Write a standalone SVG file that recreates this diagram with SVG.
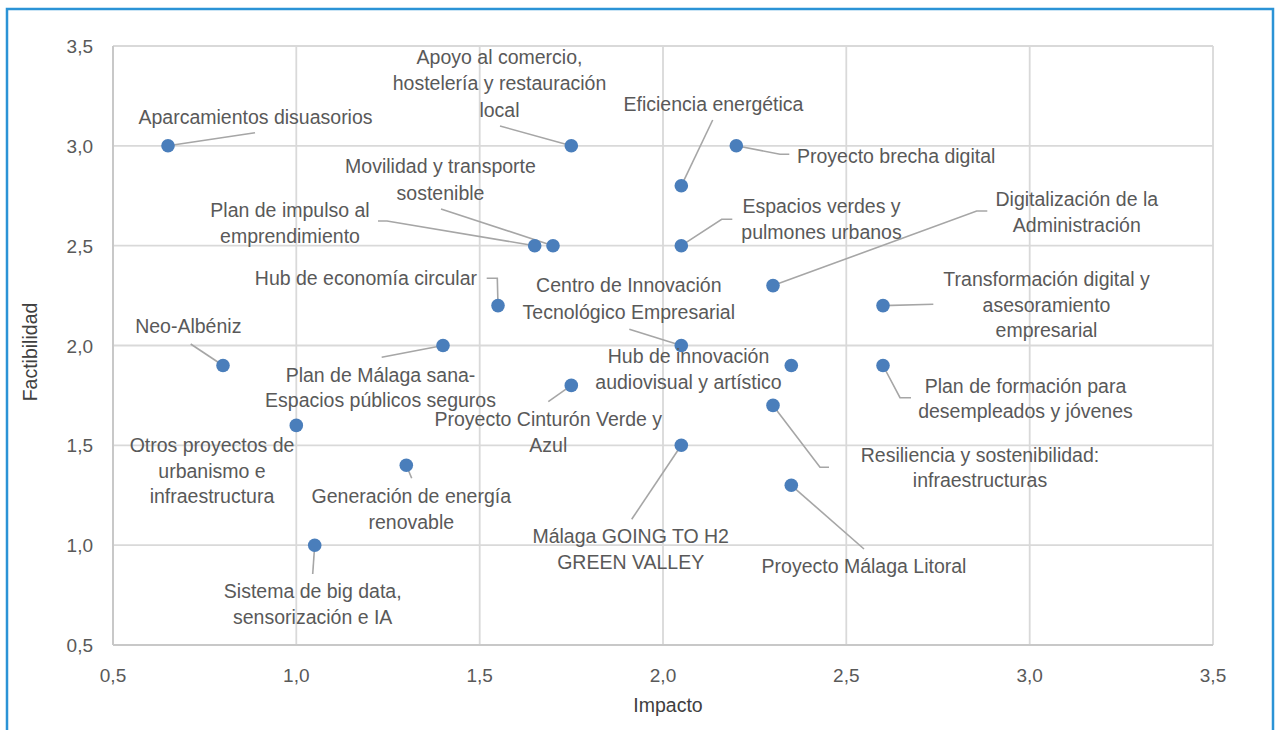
<svg xmlns="http://www.w3.org/2000/svg" width="1281" height="730" viewBox="0 0 1281 730">
<style>
.grid{stroke:#D9D9D9;stroke-width:1.8;fill:none}
.axis{stroke:#C8C8C8;stroke-width:2;fill:none}
.lead{stroke:#A6A6A6;stroke-width:1.6;fill:none}
.dot{fill:#4A7EBB}
.lbl{font-family:"Liberation Sans",Arial,sans-serif;font-size:19.5px;fill:#595959;text-anchor:middle}
.tick{font-family:"Liberation Sans",Arial,sans-serif;font-size:19px;fill:#595959}
.ttl{font-family:"Liberation Sans",Arial,sans-serif;font-size:19.5px;fill:#404040;text-anchor:middle}
</style>
<rect x="0" y="0" width="1281" height="730" fill="#FFFFFF"/>
<rect x="7" y="9" width="1266" height="730" fill="none" stroke="#2B93D6" stroke-width="2.5"/>
<g id="gridlines">
<line class="grid" x1="113" y1="46" x2="1213" y2="46"/>
<line class="grid" x1="113" y1="145.8" x2="1213" y2="145.8"/>
<line class="grid" x1="113" y1="245.7" x2="1213" y2="245.7"/>
<line class="grid" x1="113" y1="345.5" x2="1213" y2="345.5"/>
<line class="grid" x1="113" y1="445.3" x2="1213" y2="445.3"/>
<line class="grid" x1="113" y1="545.2" x2="1213" y2="545.2"/>
<line class="grid" x1="296.3" y1="46" x2="296.3" y2="645"/>
<line class="grid" x1="479.7" y1="46" x2="479.7" y2="645"/>
<line class="grid" x1="663" y1="46" x2="663" y2="645"/>
<line class="grid" x1="846.3" y1="46" x2="846.3" y2="645"/>
<line class="grid" x1="1029.7" y1="46" x2="1029.7" y2="645"/>
<line class="grid" x1="1213" y1="46" x2="1213" y2="645"/>
<line class="axis" x1="113" y1="46" x2="113" y2="645"/>
<line class="axis" x1="113" y1="645" x2="1213" y2="645"/>
</g>
<g id="y-ticks" class="tick" text-anchor="end">
<text x="93" y="53">3,5</text>
<text x="93" y="152.8">3,0</text>
<text x="93" y="252.7">2,5</text>
<text x="93" y="352.5">2,0</text>
<text x="93" y="452.3">1,5</text>
<text x="93" y="552.2">1,0</text>
<text x="93" y="652">0,5</text>
</g>
<g id="x-ticks" class="tick" text-anchor="middle">
<text x="113" y="681.5">0,5</text>
<text x="296.3" y="681.5">1,0</text>
<text x="479.7" y="681.5">1,5</text>
<text x="663" y="681.5">2,0</text>
<text x="846.3" y="681.5">2,5</text>
<text x="1029.7" y="681.5">3,0</text>
<text x="1213" y="681.5">3,5</text>
</g>
<text id="x-title" class="ttl" x="668" y="711.5">Impacto</text>
<text id="y-title" class="ttl" transform="translate(37,352) rotate(-90)">Factibilidad</text>
<g id="connectors">
<polyline class="lead" points="168,145.8 255,132.7"/>
<polyline class="lead" points="500,126 571.3,145.8"/>
<polyline class="lead" points="712.7,120 681.3,185.8"/>
<polyline class="lead" points="736.3,145.8 780,154.3 789.3,154.3"/>
<polyline class="lead" points="441,209 553,245.7"/>
<polyline class="lead" points="378,221 387,221 534.7,245.7"/>
<polyline class="lead" points="681.3,245.7 721.7,219.3 732.3,219.3"/>
<polyline class="lead" points="773,285.6 976.7,211 987.3,211"/>
<polyline class="lead" points="883,305.6 933.3,304.3"/>
<polyline class="lead" points="486.7,278.3 497.3,278.3 498,305.6"/>
<polyline class="lead" points="629.3,329.3 681.3,345.5"/>
<polyline class="lead" points="190.7,344 223,365.5"/>
<polyline class="lead" points="381.7,357.3 443,345.5"/>
<polyline class="lead" points="548.3,401.7 571.3,385.4"/>
<polyline class="lead" points="883,365.5 900,397.7 911,397.7"/>
<polyline class="lead" points="773,405.4 820,467.3 829,467.3"/>
<polyline class="lead" points="791.3,485.3 864,549"/>
<polyline class="lead" points="406.3,465.3 411.7,478.3"/>
<polyline class="lead" points="314.7,545.2 312.7,574"/>
<polyline class="lead" points="681.3,445.3 631.7,519.3"/>
</g>
<g id="p-aparcamientos"><circle class="dot" cx="168" cy="145.8" r="6.8"/><text class="lbl" x="255.5" y="124">Aparcamientos disuasorios</text></g>
<g id="p-apoyo"><circle class="dot" cx="571.3" cy="145.8" r="6.8"/><text class="lbl" x="499.5" y="63.5">Apoyo al comercio,</text><text class="lbl" x="499.5" y="90">hostelería y restauración</text><text class="lbl" x="499.5" y="116.5">local</text></g>
<g id="p-brecha"><circle class="dot" cx="736.3" cy="145.8" r="6.8"/><text class="lbl" x="797" y="163.3" style="text-anchor:start">Proyecto brecha digital</text></g>
<g id="p-eficiencia"><circle class="dot" cx="681.3" cy="185.8" r="6.8"/><text class="lbl" x="713.5" y="111">Eficiencia energética</text></g>
<g id="p-movilidad"><circle class="dot" cx="553" cy="245.7" r="6.8"/><text class="lbl" x="440.5" y="173">Movilidad y transporte</text><text class="lbl" x="440.5" y="200">sostenible</text></g>
<g id="p-impulso"><circle class="dot" cx="534.7" cy="245.7" r="6.8"/><text class="lbl" x="290" y="216.7">Plan de impulso al</text><text class="lbl" x="290" y="243">emprendimiento</text></g>
<g id="p-espacios-verdes"><circle class="dot" cx="681.3" cy="245.7" r="6.8"/><text class="lbl" x="821.5" y="213.3">Espacios verdes y</text><text class="lbl" x="821.5" y="239.3">pulmones urbanos</text></g>
<g id="p-digitalizacion"><circle class="dot" cx="773" cy="285.6" r="6.8"/><text class="lbl" x="1076.8" y="206">Digitalización de la</text><text class="lbl" x="1076.8" y="231.7">Administración</text></g>
<g id="p-transformacion"><circle class="dot" cx="883" cy="305.6" r="6.8"/><text class="lbl" x="1046.5" y="286">Transformación digital y</text><text class="lbl" x="1046.5" y="311.7">asesoramiento</text><text class="lbl" x="1046.5" y="336.5">empresarial</text></g>
<g id="p-economia-circular"><circle class="dot" cx="498" cy="305.6" r="6.8"/><text class="lbl" x="477" y="285" style="text-anchor:end">Hub de economía circular</text></g>
<g id="p-centro-innovacion"><circle class="dot" cx="681.3" cy="345.5" r="6.8"/><text class="lbl" x="628.8" y="292.3">Centro de Innovación</text><text class="lbl" x="628.8" y="319">Tecnológico Empresarial</text></g>
<g id="p-neo-albeniz"><circle class="dot" cx="223" cy="365.5" r="6.8"/><text class="lbl" x="188.3" y="333.3">Neo-Albéniz</text></g>
<g id="p-malaga-sana"><circle class="dot" cx="443" cy="345.5" r="6.8"/><text class="lbl" x="380.5" y="381.7">Plan de Málaga sana-</text><text class="lbl" x="380.5" y="406.7">Espacios públicos seguros</text></g>
<g id="p-hub-audiovisual"><circle class="dot" cx="791.3" cy="365.5" r="6.8"/><text class="lbl" x="688.5" y="362.7">Hub de innovación</text><text class="lbl" x="688.5" y="389.3">audiovisual y artístico</text></g>
<g id="p-cinturon"><circle class="dot" cx="571.3" cy="385.4" r="6.8"/><text class="lbl" x="548.3" y="426">Proyecto Cinturón Verde y</text><text class="lbl" x="548.3" y="451.7">Azul</text></g>
<g id="p-formacion"><circle class="dot" cx="883" cy="365.5" r="6.8"/><text class="lbl" x="1025.5" y="392.7">Plan de formación para</text><text class="lbl" x="1025.5" y="418.3">desempleados y jóvenes</text></g>
<g id="p-resiliencia"><circle class="dot" cx="773" cy="405.4" r="6.8"/><text class="lbl" x="980" y="461.7">Resiliencia y sostenibilidad:</text><text class="lbl" x="980" y="486.7">infraestructuras</text></g>
<g id="p-litoral"><circle class="dot" cx="791.3" cy="485.3" r="6.8"/><text class="lbl" x="864" y="573.3">Proyecto Málaga Litoral</text></g>
<g id="p-otros"><circle class="dot" cx="296.3" cy="425.4" r="6.8"/><text class="lbl" x="212" y="451.7">Otros proyectos de</text><text class="lbl" x="212" y="478.3">urbanismo e</text><text class="lbl" x="212" y="503.3">infraestructura</text></g>
<g id="p-generacion"><circle class="dot" cx="406.3" cy="465.3" r="6.8"/><text class="lbl" x="411.3" y="503.3">Generación de energía</text><text class="lbl" x="411.3" y="529.3">renovable</text></g>
<g id="p-big-data"><circle class="dot" cx="314.7" cy="545.2" r="6.8"/><text class="lbl" x="312.7" y="598.3">Sistema de big data,</text><text class="lbl" x="312.7" y="624">sensorización e IA</text></g>
<g id="p-going-h2"><circle class="dot" cx="681.3" cy="445.3" r="6.8"/><text class="lbl" x="630.7" y="543.3">Málaga GOING TO H2</text><text class="lbl" x="630.7" y="569.3">GREEN VALLEY</text></g>
</svg>
